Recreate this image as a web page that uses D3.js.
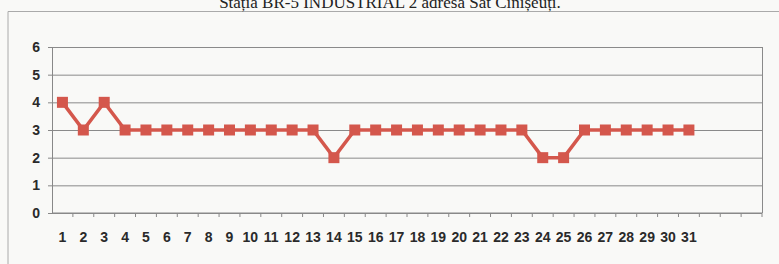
<!DOCTYPE html>
<html lang="ro">
<head>
    <meta charset="UTF-8">
    <title>Statia BR-5 INDUSTRIAL 2</title>
    <script src="https://cdnjs.cloudflare.com/ajax/libs/d3/7.8.5/d3.min.js"></script>
    <style>
        body { margin: 0; background: #f9f9f7; }
        .title { font-family: "Liberation Serif", "Times New Roman", serif; font-size: 17px; fill: #222; text-anchor: middle; }
        .axis text { font-family: "Liberation Sans", Arial, sans-serif; font-size: 14px; font-weight: bold; fill: #2a2a2a; }
        .axis path, .axis line { stroke: #888; }
        .grid line { stroke: #8a8a8a; stroke-width: 1; }
        .grid path { stroke-width: 0; }
    </style>
</head>
<body>
<div id="chart"></div>
<script>
    // Days of the month (category axis has 34 slots, labels only to 31)
    const days = d3.range(1, 32);
    const slots = d3.range(1, 35);
    const values = [4, 3, 4, 3, 3, 3, 3, 3, 3, 3, 3, 3, 3, 2, 3, 3, 3, 3, 3, 3, 3, 3, 3, 2, 2, 3, 3, 3, 3, 3, 3];
    const yTicks = [0, 1, 2, 3, 4, 5, 6];
    const titleText = "Stația BR-5 INDUSTRIAL 2 adresa Sat Cinișeuți.";

    const W = 779, H = 264;
    const margin = {top: 47, right: 17, bottom: 51, left: 52};
    const width = W - margin.left - margin.right;
    const height = H - margin.top - margin.bottom;

    const root = d3.select("#chart").append("svg")
        .attr("width", W)
        .attr("height", H);

    // outer chart frame (partially visible)
    root.append("path")
        .attr("d", `M8,${H} V11.5 H${W}`)
        .attr("fill", "none")
        .attr("stroke", "#aaa");

    root.append("text")
        .attr("class", "title")
        .attr("x", 390)
        .attr("y", 8)
        .text(titleText);

    const svg = root.append("g")
        .attr("transform", `translate(${margin.left},${margin.top})`);

    const x = d3.scaleBand()
        .domain(slots)
        .range([0, width]);

    const y = d3.scaleLinear()
        .domain([0, 6])
        .range([height, 0]);

    // horizontal gridlines
    svg.append("g")
        .attr("class", "grid")
        .call(d3.axisLeft(y).tickValues(yTicks).tickSize(-width).tickFormat(""));

    // right border of plot
    svg.append("line")
        .attr("x1", width + 0.5).attr("x2", width + 0.5)
        .attr("y1", 0).attr("y2", height)
        .attr("stroke", "#8a8a8a");

    // y axis
    svg.append("g")
        .attr("class", "axis")
        .call(d3.axisLeft(y).tickValues(yTicks).tickFormat(d3.format("d")).tickSize(4).tickPadding(8))
        .call(g => g.select(".domain").attr("d", `M0.5,0V${height}`));

    // x axis: ticks at category boundaries
    const xAxis = svg.append("g")
        .attr("class", "axis")
        .attr("transform", `translate(0,${height})`);
    xAxis.append("line")
        .attr("x1", 0).attr("x2", width)
        .attr("stroke", "#888");
    xAxis.selectAll(".tick-mark")
        .data(slots)
        .join("line")
        .attr("x1", d => x(d) + x.bandwidth())
        .attr("x2", d => x(d) + x.bandwidth())
        .attr("y1", 0).attr("y2", 4)
        .attr("stroke", "#888");
    xAxis.selectAll(".lbl")
        .data(days)
        .join("text")
        .attr("x", d => x(d) + x.bandwidth() / 2)
        .attr("y", 29)
        .attr("text-anchor", "middle")
        .text(d => d);

    const line = d3.line()
        .x((d, i) => x(days[i]) + x.bandwidth() / 2)
        .y(d => y(d));

    svg.append("path")
        .datum(values)
        .attr("fill", "none")
        .attr("stroke", "#d4574c")
        .attr("stroke-width", 3.5)
        .attr("d", line);

    const ms = 11;
    svg.selectAll(".marker")
        .data(values)
        .join("rect")
        .attr("x", (d, i) => x(days[i]) + x.bandwidth() / 2 - ms / 2)
        .attr("y", d => y(d) - ms / 2)
        .attr("width", ms)
        .attr("height", ms)
        .attr("fill", "#d4574c");
</script>
</body>
</html>
